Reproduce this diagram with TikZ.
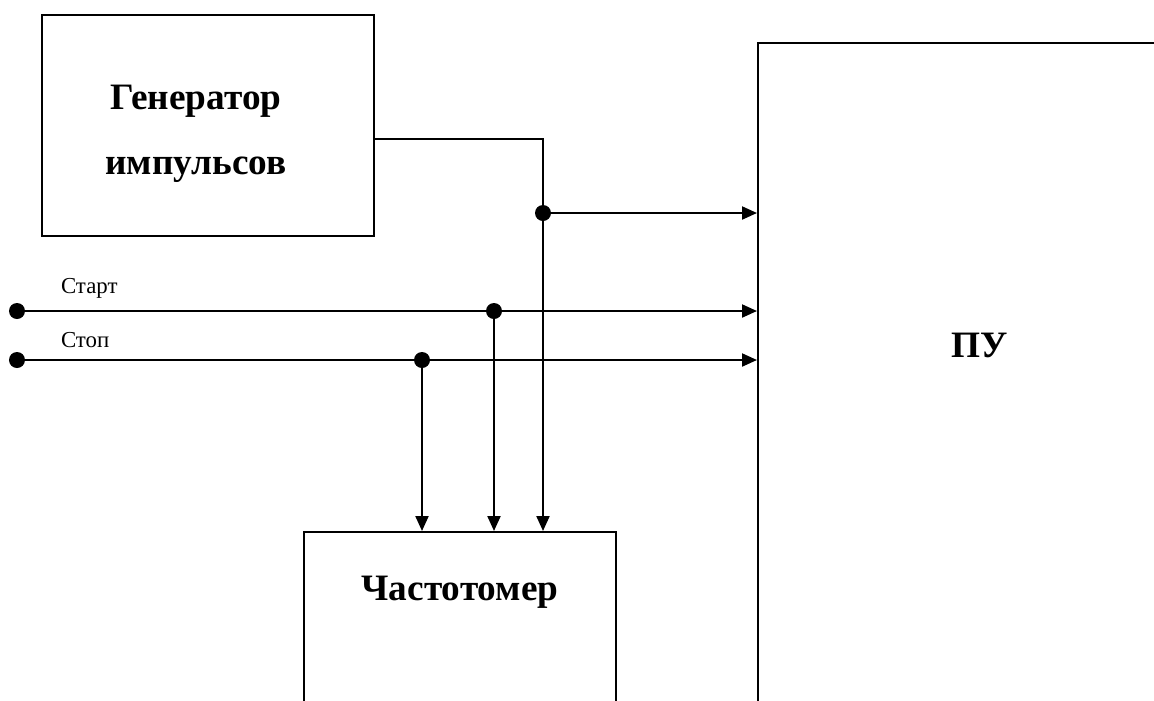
\documentclass[tikz,border=0pt]{standalone}
\usepackage{fontspec}
\setmainfont{Liberation Serif}
\usetikzlibrary{arrows.meta}

\begin{document}
\begin{tikzpicture}[>={Triangle[length=1.5mm,width=1.3mm]},line width=0.6pt,
 blk/.style={draw,inner sep=0pt},
 ttl/.style={font=\fontsize{10.6}{18.5}\selectfont\bfseries,align=center},
 lab/.style={font=\fontsize{6.5}{8}\selectfont,anchor=base west,inner sep=0pt},
 dot/.style={circle,fill,inner sep=0pt,minimum size=1.6mm}]
\useasboundingbox (0,0) rectangle (11.54,7);
\clip (0,0) rectangle (11.54,7);
% blocks
\node[blk,minimum width=3.32cm,minimum height=2.21cm] (gen) at (2.08,5.745) {};
\node[ttl] (gent) at (1.96,5.66) {Генератор\\импульсов};
\node[blk,anchor=north west,minimum width=4.6cm,minimum height=7.2cm] (pu) at (7.57,6.58) {};
\node[ttl] (put) at (9.80,3.55) {ПУ};
\node[blk,anchor=north west,minimum width=3.12cm,minimum height=2.2cm] (frq) at (3.03,1.69) {};
\node[ttl] (frqt) at (4.60,1.08) {Частотомер};
% inputs and junctions
\coordinate (g) at ([yshift=-1.35mm]gen.east);
\node[dot] (s0) at (0.17,3.89) {};
\node[dot] (s1) at (0.17,3.40) {};
\node[dot] (j1) at (5.43,4.87) {};
\node[dot] (j2) at (4.94,3.89) {};
\node[dot] (j3) at (4.22,3.40) {};
\node[lab] (ls0) at (0.60,4.07) {Старт};
\node[lab] (ls1) at (0.60,3.53) {Стоп};
% connections
\draw (g) -| (j1.center);
\draw[->] (j1.center) -- (j1 -| pu.west);
\draw[->] (j1.center) -- (j1 |- frq.north);
\draw[->] (s0.center) -- (s0 -| pu.west);
\draw[->] (s1.center) -- (s1 -| pu.west);
\draw[->] (j2.center) -- (j2 |- frq.north);
\draw[->] (j3.center) -- (j3 |- frq.north);
\end{tikzpicture}
\end{document}
